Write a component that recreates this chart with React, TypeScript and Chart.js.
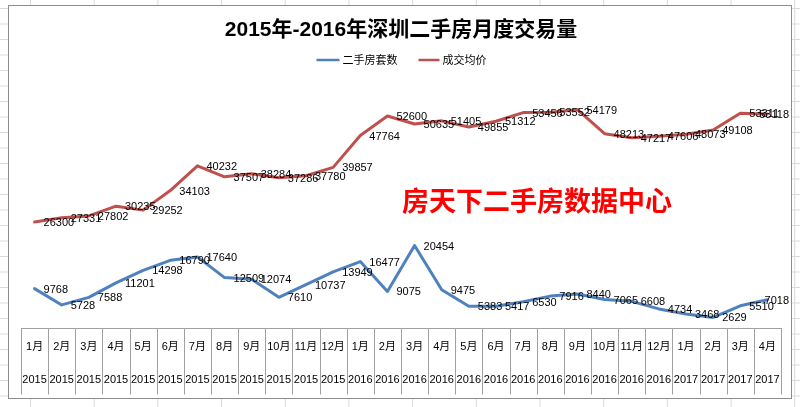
import { useEffect, useRef } from "react";
import { Chart, registerables } from "chart.js";

Chart.register(...registerables);

const chartTitle = "2015年-2016年深圳二手房月度交易量";
const watermarkText = "房天下二手房数据中心";
const seriesNames = ["二手房套数", "成交均价"];
const seriesColors = ["#4F81BD", "#C0504D"];

const monthLabels = [
  "1月", "2月", "3月", "4月", "5月", "6月", "7月", "8月", "9月", "10月", "11月", "12月",
  "1月", "2月", "3月", "4月", "5月", "6月", "7月", "8月", "9月", "10月", "11月", "12月",
  "1月", "2月", "3月", "4月",
];
const yearLabels = [
  "2015", "2015", "2015", "2015", "2015", "2015", "2015", "2015", "2015", "2015", "2015", "2015",
  "2016", "2016", "2016", "2016", "2016", "2016", "2016", "2016", "2016", "2016", "2016", "2016",
  "2017", "2017", "2017", "2017",
];
const salesCount = [
  9768, 5728, 7588, 11201, 14298, 16790, 17640, 12509, 12074, 7610, 10737, 13949,
  16477, 9075, 20454, 9475, 5383, 5417, 6530, 7916, 8440, 7065, 6608, 4734,
  3468, 2629, 5510, 7018,
];
const avgPrice = [
  26300, 27331, 27802, 30235, 29252, 34103, 40232, 37507, 38284, 37286, 37780, 39857,
  47764, 52600, 50635, 51405, 49855, 51312, 53456, 53552, 54179, 48213, 47217, 47606,
  48073, 49108, 53311, 53118,
];
const yMin = 0;
const yMax = 60000;

const FONT = "'Liberation Sans', 'Noto Sans CJK SC', sans-serif";
const CJK = "'Noto Sans CJK SC', 'Liberation Sans', sans-serif";

const decorPlugin = {
  id: "excelDecor",
  afterDatasetsDraw(chart: any) {
    const ctx: CanvasRenderingContext2D = chart.ctx;
    const xs = chart.scales.x;
    const area = chart.chartArea;
    const n = chart.data.labels.length;
    ctx.save();

    // data labels (right of each point, kept inside the chart box)
    ctx.font = `11px ${FONT}`;
    ctx.fillStyle = "#000";
    ctx.textAlign = "left";
    ctx.textBaseline = "middle";
    chart.data.datasets.forEach((ds: any, di: number) => {
      const meta = chart.getDatasetMeta(di);
      meta.data.forEach((pt: any, i: number) => {
        const txt = String(ds.data[i]);
        const w = ctx.measureText(txt).width;
        const tx = Math.min(pt.x + 9, chart.width - 2 - w);
        ctx.fillText(txt, tx, pt.y + 1);
      });
    });

    // table-style category axis
    const half = (xs.getPixelForValue(1) - xs.getPixelForValue(0)) / 2;
    const tableH = 66;
    ctx.strokeStyle = "#a0a0a0";
    ctx.lineWidth = 1;
    ctx.beginPath();
    const yTop = Math.round(area.bottom) + 0.5;
    ctx.moveTo(Math.round(area.left), yTop);
    ctx.lineTo(Math.round(area.right) + 1, yTop);
    for (let i = 0; i <= n; i++) {
      const bx = i < n ? xs.getPixelForValue(i) - half : xs.getPixelForValue(n - 1) + half;
      const px = Math.round(bx) + 0.5;
      ctx.moveTo(px, yTop);
      ctx.lineTo(px, yTop + tableH);
    }
    ctx.stroke();

    ctx.fillStyle = "#000";
    ctx.textAlign = "center";
    ctx.textBaseline = "middle";
    ctx.font = `11px ${FONT}`;
    for (let i = 0; i < n; i++) {
      const cx = xs.getPixelForValue(i);
      ctx.fillText(monthLabels[i], cx, area.bottom + 19);
      ctx.fillText(yearLabels[i], cx, area.bottom + 52);
    }

    // legend
    ctx.font = `11px ${CJK}`;
    ctx.textAlign = "left";
    const lineLens = [23, 21];
    const textGap = 3;
    const itemGap = 21;
    const widths = seriesNames.map((s) => ctx.measureText(s).width);
    const total = lineLens[0] + textGap + widths[0] + itemGap + lineLens[1] + textGap + widths[1];
    let lx = chart.width / 2 - total / 2 + 1.5;
    const ly = 54;
    seriesNames.forEach((name, i) => {
      ctx.strokeStyle = seriesColors[i];
      ctx.lineWidth = 2.5;
      ctx.beginPath();
      ctx.moveTo(lx, ly);
      ctx.lineTo(lx + lineLens[i], ly);
      ctx.stroke();
      lx += lineLens[i] + textGap;
      ctx.fillStyle = "#000";
      ctx.fillText(name, lx, ly);
      lx += widths[i] + itemGap;
    });

    // watermark text box
    ctx.font = `bold 27px ${CJK}`;
    ctx.fillStyle = "#ff0000";
    ctx.textAlign = "center";
    ctx.fillText(watermarkText, 528, 195);

    ctx.restore();
  },
};

export default function App() {
  const ref = useRef<HTMLCanvasElement | null>(null);

  useEffect(() => {
    if (!ref.current) return;
    const chart = new Chart(ref.current, {
      type: "line",
      data: {
        labels: monthLabels.map((m, i) => `${m} ${yearLabels[i]}`),
        datasets: [
          {
            label: seriesNames[0],
            data: salesCount,
            borderColor: seriesColors[0],
            backgroundColor: seriesColors[0],
            borderWidth: 3,
            pointRadius: 0,
            tension: 0,
            borderJoinStyle: "round",
            borderCapStyle: "round",
          },
          {
            label: seriesNames[1],
            data: avgPrice,
            borderColor: seriesColors[1],
            backgroundColor: seriesColors[1],
            borderWidth: 3,
            pointRadius: 0,
            tension: 0,
            borderJoinStyle: "round",
            borderCapStyle: "round",
          },
        ],
      },
      options: {
        animation: false,
        responsive: false,
        devicePixelRatio: 1,
        layout: { padding: { left: 12, right: 10, top: 0, bottom: 70 } },
        scales: {
          x: { type: "category", offset: true, display: false },
          y: { min: yMin, max: yMax, display: false },
        },
        plugins: {
          legend: { display: false },
          tooltip: { enabled: false },
          title: {
            display: true,
            text: chartTitle,
            color: "#000",
            font: { family: FONT, size: 21, weight: "bold" },
            padding: { top: 12, bottom: 43 },
          },
        },
      },
      plugins: [decorPlugin],
    });
    return () => chart.destroy();
  }, []);

  return (
    <div
      style={{
        position: "fixed",
        left: 0,
        top: 0,
        width: 800,
        height: 407,
        backgroundColor: "#fff",
        backgroundImage:
          "linear-gradient(to right, #dadada 1px, transparent 1px), linear-gradient(to bottom, #dadada 1px, transparent 1px)",
        backgroundSize: "63.7px 15.5px",
        backgroundPosition: "30px 8px",
        overflow: "hidden",
      }}
    >
      <div
        style={{
          position: "absolute",
          left: 8,
          top: 5,
          width: 782,
          height: 392,
          border: "1px solid #8c8c8c",
          background: "#fff",
        }}
      >
        <canvas ref={ref} width={782} height={392} style={{ display: "block" }} />
      </div>
    </div>
  );
}
